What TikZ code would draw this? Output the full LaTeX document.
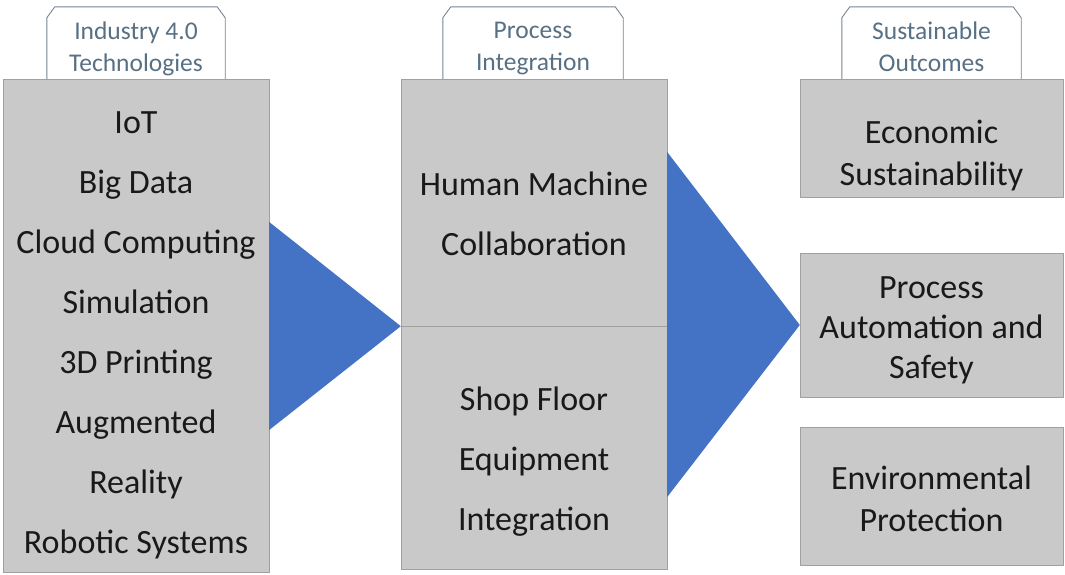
\documentclass[tikz,border=0pt]{standalone}
\usepackage{fontspec}
\setmainfont{Carlito}
\definecolor{boxgray}{RGB}{201,201,201}
\definecolor{boxline}{RGB}{160,160,160}
\definecolor{arrowblue}{RGB}{68,114,196}
\definecolor{tabtext}{RGB}{88,112,132}
\definecolor{tabline}{RGB}{118,132,148}

\begin{document}
\begin{tikzpicture}[x=1pt,y=-1pt,
    stage/.style={draw=boxline,fill=boxgray,inner sep=0pt},
    stagetext/.style={align=center,text=black!90,inner sep=0pt,
      font=\fontsize{34}{60}\selectfont},
    outtext/.style={stagetext,font=\fontsize{34}{42}\selectfont},
    headtab/.style={inner sep=0pt,minimum height=75pt},
    tabtext/.style={align=center,text=tabtext,inner sep=0pt,yshift=-4pt,
      font=\fontsize{25.5}{32}\selectfont}]
  \useasboundingbox (0,0) rectangle (1065,574);
  % heading tabs
  \node [headtab,minimum width=178pt,label={[tabtext]center:{Industry 4.0\\Technologies}}]
    (techtab) at (136,44.5) {};
  \node [headtab,minimum width=180pt,label={[tabtext]center:{Process\\Integration}}]
    (integtab) at (533,44.5) {};
  \node [headtab,minimum width=179pt,label={[tabtext,yshift=2pt]center:{Sustainable\\Outcomes}}]
    (outtab) at (931.5,44.5) {};
  \foreach \t in {techtab,integtab,outtab}
    \draw [tabline,line width=0.9pt] (\t.south west) -- ([yshift=-11pt]\t.north west)
      -- ([xshift=8pt]\t.north west) -- ([xshift=-8pt]\t.north east)
      -- ([yshift=-11pt]\t.north east) -- (\t.south east);
  % columns
  \node [stage,minimum width=266pt,minimum height=493pt,
    label={[stagetext,yshift=-10pt]center:{IoT\\Big Data\\Cloud Computing\\Simulation\\3D Printing\\Augmented\\Reality\\Robotic Systems}}]
    (tech) at (136,325.5) {};
  \node [stage,minimum width=266pt,minimum height=247pt,
    label={[stagetext,yshift=-11pt]center:{Human Machine\\Collaboration}}]
    (hmc) at (534,202.5) {};
  \node [stage,minimum width=266pt,minimum height=243pt,
    label={[stagetext,yshift=-14pt]center:{Shop Floor\\Equipment\\Integration}}]
    (shop) at (534,447.5) {};
  \node [stage,minimum width=263pt,minimum height=118pt,
    label={[outtext,yshift=-18pt]center:{Economic\\Sustainability}}]
    (econ) at (931.5,138) {};
  \node [stage,minimum width=263pt,minimum height=144pt,
    label={[outtext,font=\fontsize{34}{40}\selectfont,yshift=-5pt]center:{Process\\Automation and\\Safety}}]
    (autom) at (931.5,325) {};
  \node [stage,minimum width=263pt,minimum height=138pt,
    label={[outtext,yshift=-3pt]center:{Environmental\\Protection}}]
    (envir) at (931.5,496) {};
  % arrows
  \fill [arrowblue] (tech.east |- 0,222) -- (tech.east |- 0,430) -- (hmc.south west) -- cycle;
  \fill [arrowblue] (hmc.east |- 0,152) -- (hmc.east |- 0,497) -- (autom.west) -- cycle;
\end{tikzpicture}
\end{document}
